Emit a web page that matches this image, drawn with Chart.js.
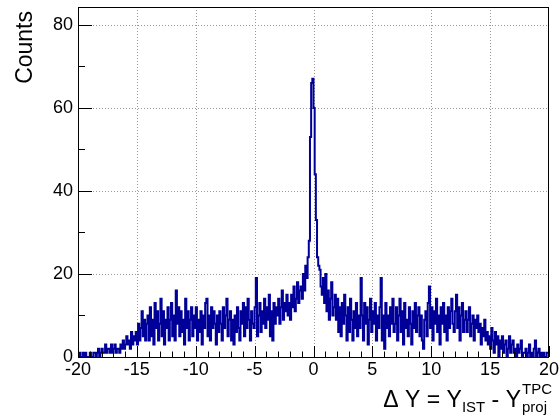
<!DOCTYPE html>
<html>
<head>
<meta charset="utf-8">
<script src="https://cdn.jsdelivr.net/npm/chart.js@4"></script>
<style>
  body { margin: 0; background: #fff; }
  canvas { display: block; }
</style>
</head>
<body>
<canvas id="hist" width="560" height="415"></canvas>
<script>
// histogram binning: 400 bins from -20 to 20
const xMin = -20;
const xMax = 20;
const binWidth = 0.1;

// counts per bin, one row per unit of ΔY
const counts = [
  1,0,1,0,0,1,0,1,0,0,        // -20
  0,1,0,0,1,1,0,1,2,0,        // -19
  1,2,1,1,3,1,2,2,1,3,        // -18
  1,2,3,1,2,2,1,3,2,4,        // -17
  2,3,5,3,4,2,6,3,5,4,        // -16
  6,3,8,4,7,11,5,9,4,8,       // -15
  10,4,12,5,9,3,13,7,11,4,    // -14
  8,14,5,11,3,9,7,12,4,9,     // -13
  13,5,10,4,16,8,12,5,11,6,   // -12
  9,3,14,7,11,4,9,12,5,10,    // -11
  7,12,4,9,6,11,3,10,7,13,    // -10
  14,5,10,4,12,7,11,8,3,10,   // -9
  6,11,8,4,12,7,10,14,5,9,    // -8
  11,4,9,3,10,6,12,7,4,11,    // -7
  8,13,5,12,7,14,9,4,11,8,    // -6
  7,12,19,5,10,13,6,11,8,14,  // -5
  7,12,9,15,5,11,4,13,8,12,   // -4
  10,14,8,12,16,9,13,11,15,10,// -3
  13,9,15,12,17,11,14,18,13,16,// -2
  17,14,20,16,22,19,24,28,53,66,// -1
  67,60,44,33,24,22,21,17,15,19,// 0
  13,20,11,16,9,14,18,10,12,15,// 1
  9,14,6,12,5,13,8,15,10,4,   // 2
  12,6,14,9,4,11,7,13,5,10,   // 3
  7,19,10,4,13,8,12,3,9,14,   // 4
  6,11,8,13,4,10,7,12,19,4,   // 5
  10,2,13,7,10,5,12,8,14,6,   // 6
  8,12,4,10,14,6,11,3,13,7,   // 7
  9,5,12,8,3,11,7,13,6,10,    // 8
  12,5,10,4,2,9,11,5,13,17,   // 9
  7,12,4,11,8,14,6,10,3,12,   // 10
  8,13,6,10,4,12,7,11,14,8,   // 11
  6,11,15,7,12,4,10,13,6,9,   // 12
  11,6,9,12,5,8,10,4,9,7,     // 13
  10,6,8,3,7,5,9,4,6,3,       // 14
  5,2,7,4,1,6,3,5,0,4,        // 15
  2,5,1,3,4,0,2,5,1,3,        // 16
  4,1,2,0,3,1,2,4,0,1,        // 17
  1,2,0,1,3,0,1,0,2,4,        // 18
  0,1,2,0,1,0,1,0,0,1         // 19
];

const xTickLabels = [-20, -15, -10, -5, 0, 5, 10, 15, 20];
const yTickLabels = [0, 20, 40, 60, 80];
const yMax = 84.3;

// left bin edges + closing edge for the step outline
const points = counts.map((c, i) => ({ x: xMin + i * binWidth, y: c }));
points.push({ x: xMax, y: counts[counts.length - 1] });

const FONT = '"Liberation Sans", Arial, Helvetica, sans-serif';

// ROOT-style frame, inner ticks, labels and titles
const frameDecor = {
  id: 'frameDecor',
  beforeDatasetsDraw(chart) {
    const { ctx, chartArea: a, scales: { x, y } } = chart;
    ctx.save();
    ctx.strokeStyle = '#999';
    ctx.lineWidth = 1;
    ctx.setLineDash([1, 2]);
    xTickLabels.slice(1, -1).forEach(v => {
      const px = Math.round(x.getPixelForValue(v)) + 0.5;
      ctx.beginPath(); ctx.moveTo(px, a.top); ctx.lineTo(px, a.bottom); ctx.stroke();
    });
    yTickLabels.slice(1).forEach(v => {
      const py = Math.round(y.getPixelForValue(v)) + 0.5;
      ctx.beginPath(); ctx.moveTo(a.left, py); ctx.lineTo(a.right, py); ctx.stroke();
    });
    ctx.restore();
  },
  afterDatasetsDraw(chart) {
    const { ctx, chartArea: a, scales: { x, y } } = chart;
    ctx.save();
    ctx.strokeStyle = '#000';
    ctx.lineWidth = 1;
    ctx.setLineDash([]);
    ctx.strokeRect(a.left + 0.5, a.top + 0.5, a.right - a.left - 1, a.bottom - a.top);

    // x ticks: major every 5, minor every 1
    for (let v = xMin; v <= xMax; v += 1) {
      const px = Math.round(x.getPixelForValue(v)) + 0.5;
      const len = v % 5 === 0 ? 11 : 5.5;
      ctx.beginPath(); ctx.moveTo(px, a.bottom); ctx.lineTo(px, a.bottom - len); ctx.stroke();
    }
    // y ticks: major every 20, minor every 10
    for (let v = 0; v <= yMax; v += 10) {
      const py = Math.round(y.getPixelForValue(v)) + 0.5;
      const len = v % 20 === 0 ? 14 : 7;
      ctx.beginPath(); ctx.moveTo(a.left, py); ctx.lineTo(a.left + len, py); ctx.stroke();
    }

    ctx.fillStyle = '#000';
    ctx.font = '18px ' + FONT;
    ctx.textAlign = 'center';
    ctx.textBaseline = 'top';
    xTickLabels.forEach(v => ctx.fillText(String(v), x.getPixelForValue(v), a.bottom + 4));
    ctx.textAlign = 'right';
    ctx.textBaseline = 'middle';
    yTickLabels.forEach(v => ctx.fillText(String(v), a.left - 5, y.getPixelForValue(v)));

    // y title
    ctx.save();
    ctx.translate(32, a.top + 4);
    ctx.rotate(-Math.PI / 2);
    ctx.font = '23px ' + FONT;
    ctx.textAlign = 'right';
    ctx.textBaseline = 'alphabetic';
    ctx.fillText('Counts', 0, 0);
    ctx.restore();

    // x title: ΔY = Y_IST - Y^TPC_proj, right aligned to the frame
    const big = '23px ' + FONT, small = '15px ' + FONT;
    const base = 407;
    const parts = [
      { t: '\u0394 Y = Y', f: big, dy: 0 },
      { t: 'IST', f: small, dy: 5 },
      { t: ' - Y', f: big, dy: 0 }
    ];
    ctx.textAlign = 'left';
    ctx.textBaseline = 'alphabetic';
    const widths = parts.map(p => { ctx.font = p.f; return ctx.measureText(p.t).width; });
    ctx.font = small;
    const scriptW = Math.max(ctx.measureText('TPC').width, ctx.measureText('proj').width);
    let cx = a.right + 3 - (widths.reduce((s, w) => s + w, 0) + scriptW + 1);
    parts.forEach((p, i) => { ctx.font = p.f; ctx.fillText(p.t, cx, base + p.dy); cx += widths[i]; });
    ctx.font = small;
    ctx.fillText('TPC', cx + 1, base - 13);
    ctx.fillText('proj', cx + 1, base + 5);
    ctx.restore();
  }
};

new Chart(document.getElementById('hist'), {
  type: 'line',
  data: {
    datasets: [{
      data: points,
      stepped: 'after',
      borderColor: '#000099',
      borderWidth: 2,
      pointRadius: 0,
      fill: false,
      tension: 0
    }]
  },
  options: {
    responsive: false,
    animation: false,
    layout: { padding: { left: 78, right: 11, top: 7, bottom: 58 } },
    plugins: { legend: { display: false }, tooltip: { enabled: false } },
    scales: {
      x: { type: 'linear', display: false, min: xMin, max: xMax },
      y: { display: false, min: 0, max: yMax }
    }
  },
  plugins: [frameDecor]
});
</script>
</body>
</html>
